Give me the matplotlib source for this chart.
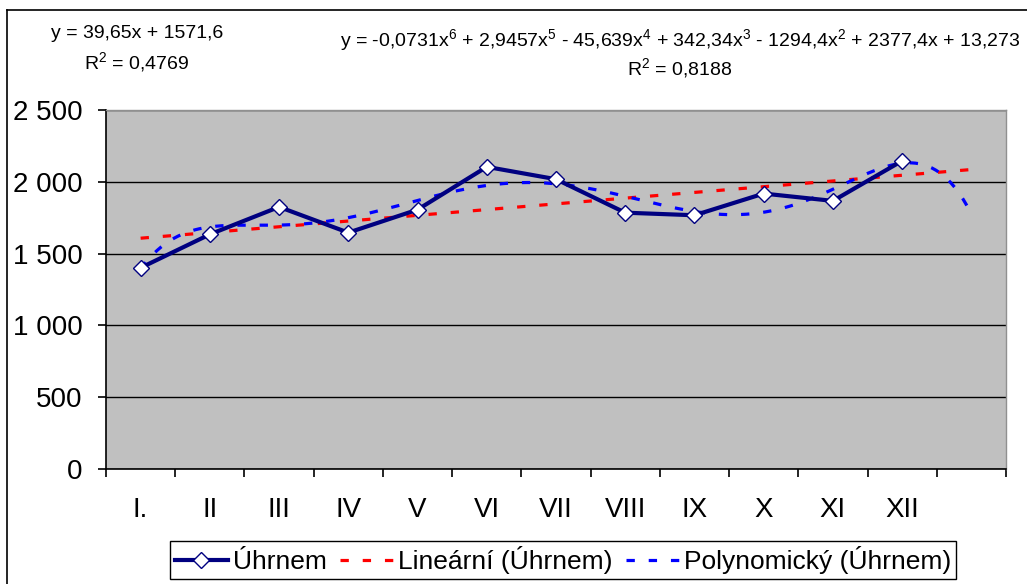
import numpy as np
import matplotlib.pyplot as plt
from matplotlib.lines import Line2D

plt.rcParams['font.family'] = ['Liberation Sans', 'DejaVu Sans']
plt.rcParams['mathtext.fontset'] = 'custom'
plt.rcParams['mathtext.rm'] = 'Liberation Sans'
plt.rcParams['mathtext.it'] = 'Liberation Sans'
plt.rcParams['lines.scale_dashes'] = False

# Data
months = ['I.', 'II', 'III', 'IV', 'V', 'VI', 'VII', 'VIII', 'IX', 'X', 'XI', 'XII', '']
uhrnem = [1401, 1634, 1825, 1646, 1806, 2104, 2018, 1785, 1767, 1918, 1867, 2146]
yticks = [0, 500, 1000, 1500, 2000, 2500]
ytick_labels = ['0', '500', '1 000', '1 500', '2 000', '2 500']

lin_eq = 'y = 39,65x + 1571,6'
lin_r2 = 'R$^2$ = 0,4769'
poly_eq = ('y = -0,0731x$^6$ + 2,9457x$^5$ - 45,639x$^4$ + 342,34x$^3$ '
           '- 1294,4x$^2$ + 2377,4x + 13,273')
poly_r2 = 'R$^2$ = 0,8188'

x = np.arange(1, len(uhrnem) + 1)
y = np.array(uhrnem)

# trendlines, forecast forward 1 period (like Excel)
xs = np.linspace(1, 13, 400)
lin = np.polyval(np.polyfit(x, y, 1), xs)
poly = np.polyval(np.polyfit(x, y, 6), xs)

fig = plt.figure(figsize=(10.27, 5.84), dpi=100)
ax = fig.add_axes([106/1027, 1-469/584, 900/1027, 359/584])
ax.set_facecolor('#C0C0C0')

ax.plot(xs - 1, lin, color='#FF0000', lw=2.3, dashes=(6, 10), zorder=2,
        label='Lineární (Úhrnem)')
ax.plot(xs - 1, poly, color='#0000FF', lw=2.3, dashes=(6, 10), zorder=2,
        label='Polynomický (Úhrnem)')
ax.plot(x - 1, y, color='#000080', lw=3, marker='D', markersize=8,
        markerfacecolor='white', markeredgecolor='#000080', markeredgewidth=1,
        zorder=3, label='Úhrnem')

ax.set_xlim(-0.5, 12.5)
ax.set_ylim(0, 2500)
ax.set_yticks(yticks)
ax.set_yticklabels(ytick_labels)
ax.set_xticks(np.arange(13))
ax.set_xticklabels(months)
ax.set_xticks(np.arange(-0.5, 13, 1), minor=True)
ax.tick_params(axis='x', which='major', length=0, pad=20, labelsize=20)
ax.tick_params(axis='x', which='minor', length=6, width=1.2, direction='out')
ax.tick_params(axis='y', length=6, width=1.2, pad=11, labelsize=20)
ax.yaxis.grid(True, color='black', lw=1)
ax.set_axisbelow(True)
for s in ['left', 'bottom']:
    ax.spines[s].set_color('black')
    ax.spines[s].set_linewidth(1.2)
for s in ['top', 'right']:
    ax.spines[s].set_color('#909090')
    ax.spines[s].set_linewidth(1)

# equations
fig.text(137/1027, 1-34/584, lin_eq, ha='center', va='center', fontsize=14)
fig.text(137/1027, 1-62/584, lin_r2, ha='center', va='center', fontsize=14)
fig.text(680/1027, 1-40/584, poly_eq, ha='center', va='center', fontsize=14)
fig.text(680/1027, 1-68/584, poly_r2, ha='center', va='center', fontsize=14)

# chart frame
fig.add_artist(Line2D([6.5/1027, 6.5/1027], [0, 1-10/584], color='black', lw=1.2))
fig.add_artist(Line2D([6.5/1027, 1], [1-10/584, 1-10/584], color='black', lw=1.2))

h, l = ax.get_legend_handles_labels()
order = [2, 0, 1]
leg = fig.legend([h[i] for i in order], [l[i] for i in order], ncol=3,
                 loc='center', bbox_to_anchor=(563/1027, 1-560/584),
                 fontsize=19, frameon=True, fancybox=False, edgecolor='black',
                 framealpha=1, borderpad=0.2, handlelength=2.0,
                 handletextpad=0.2, columnspacing=0.5, borderaxespad=0)
leg.get_frame().set_linewidth(1)

fig.savefig('out.png', dpi=100)
